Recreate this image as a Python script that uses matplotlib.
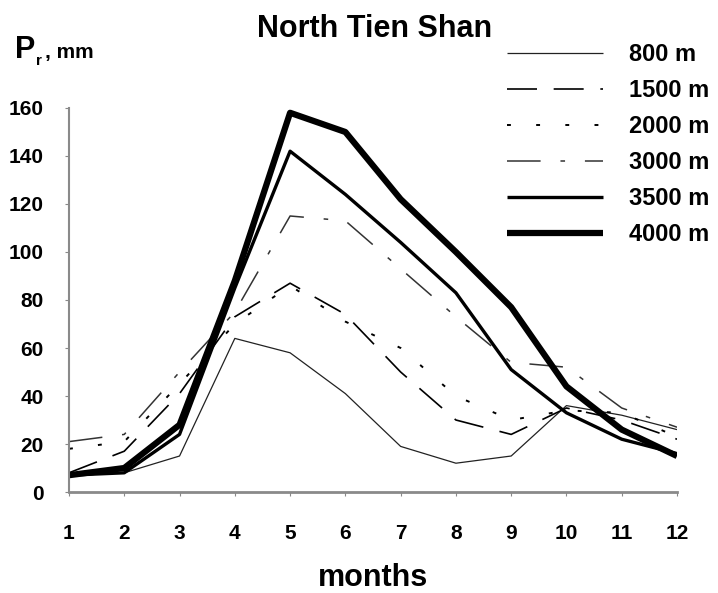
import matplotlib
matplotlib.use('Agg')
import matplotlib.pyplot as plt
import numpy as np

plt.rcParams['font.family'] = ['Liberation Sans', 'DejaVu Sans']
plt.rcParams['font.weight'] = 'bold'

months = np.arange(1, 13)
p800 = [7, 8, 15, 64, 58, 41, 19, 12, 15, 36, 32, 26]
p1500 = [8, 17, 41, 73, 87, 74, 50, 30, 24, 35, 30, 22]
p2000 = [18, 21, 45, 70, 86, 71, 60, 40, 30, 34, 33, 23]
p3000 = [21, 24, 50, 75, 115, 113, 93, 73, 54, 52, 35, 27]
p3500 = [7, 8, 24, 85, 142, 124, 104, 83, 51, 33, 22, 16]
p4000 = [7, 10, 28, 88, 158, 150, 122, 100, 77, 44, 26, 15]
labels = ['800 m', '1500 m', '2000 m', '3000 m', '3500 m', '4000 m']

series = [p800, p1500, p2000, p3000, p3500, p4000]
# linewidth, dash pattern (None = solid), colour
styles = [
    (0.9, None, '#222222'),
    (1.2, (18, 10), 'black'),
    (1.4, (2, 13), 'black'),
    (1.1, (22, 13, 3, 13), '#333333'),
    (2.4, None, 'black'),
    (4.5, None, 'black'),
]

fig = plt.figure(figsize=(7.18, 5.93), dpi=100)
ax = fig.add_axes([0.0961, 0.1703, 0.8468, 0.6476])

for vals, lab, (lw, dash, col) in zip(series, labels, styles):
    line, = ax.plot(months, vals, color=col, lw=lw, label=lab,
                    solid_capstyle='butt')
    if dash is not None:
        line.set_dashes(dash)

ax.set_xlim(1, 12)
ax.set_ylim(0, 160)
ax.set_xticks(months)
ax.set_yticks(np.arange(0, 161, 20))
ax.tick_params(axis='both', labelsize=15, length=3, color='#888888')
ax.tick_params(axis='x', pad=20)
ax.tick_params(axis='y', pad=15)
for s in ['top', 'right']:
    ax.spines[s].set_visible(False)
ax.spines['left'].set_color('#8a8a8a')
ax.spines['left'].set_linewidth(1.5)
ax.spines['bottom'].set_color('#8a8a8a')
ax.spines['bottom'].set_linewidth(2)

ax.set_xlabel('months', fontsize=22, fontweight='bold')
ax.xaxis.set_label_coords(0.5, -0.185)

fig.text(375 / 718, 1 - 14 / 593, 'North Tien Shan', ha='center', va='top',
         fontsize=22, fontweight='bold')
fig.text(15 / 718, 1 - 58 / 593, 'P', fontsize=22, fontweight='bold')
fig.text(36 / 718, 1 - 65 / 593, 'r', fontsize=11, fontweight='bold')
fig.text(45 / 718, 1 - 58 / 593, ', mm', fontsize=15, fontweight='bold')

leg = ax.legend(loc='upper left', bbox_to_anchor=(507 / 718, 1 - 43 / 593),
                bbox_transform=fig.transFigure, frameon=False, fontsize=17,
                handlelength=4.06, handletextpad=1.1, labelspacing=0.55,
                borderpad=0, borderaxespad=0)

fig.savefig('out.png', dpi=100)
